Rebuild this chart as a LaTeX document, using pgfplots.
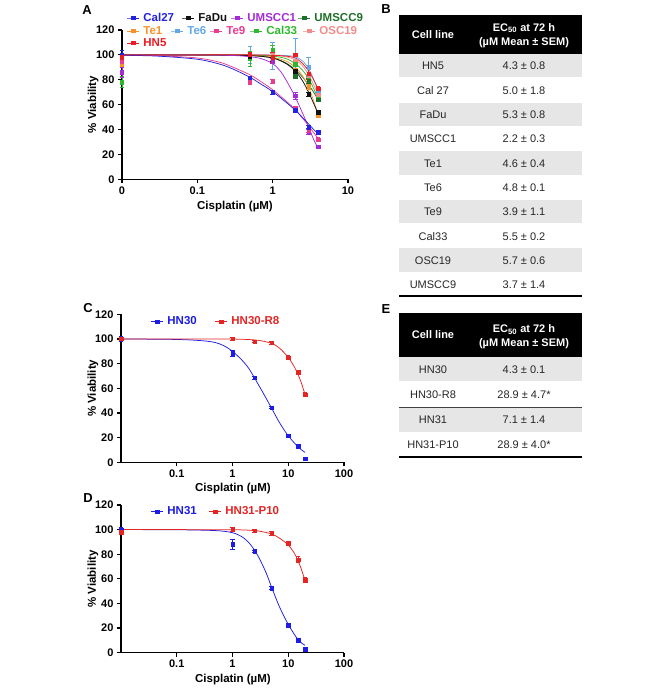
\documentclass[border=0pt]{standalone}
\usepackage{pgfplots}
\pgfplotsset{compat=1.18}
\usepackage{fontspec}
\setmainfont{Liberation Sans}
\definecolor{cCal27}{HTML}{2222E0}
\definecolor{cFaDu}{HTML}{111111}
\definecolor{cUMa}{HTML}{A52BD6}
\definecolor{cUMb}{HTML}{1F6F2A}
\definecolor{cTea}{HTML}{F5922A}
\definecolor{cTeb}{HTML}{62A8E6}
\definecolor{cTec}{HTML}{E83C8E}
\definecolor{cCal33}{HTML}{2EB82E}
\definecolor{cOSC}{HTML}{F28C8C}
\definecolor{cHN5}{HTML}{EC1C24}
\definecolor{cBlue}{HTML}{1C1CE6}
\definecolor{cRed}{HTML}{E52424}
\definecolor{rowgray}{HTML}{E6E6E6}
\newcommand{\tickfont}{\bfseries\fontsize{11}{13}\selectfont}
\newcommand{\labfont}{\bfseries\fontsize{11.5}{13}\selectfont}
\newcommand{\tabfont}{\fontsize{11}{13}\selectfont}
\newcommand{\hdfont}{\bfseries\fontsize{11}{13}\selectfont}
\pgfplotsset{
  mypts/.style={only marks, mark=square*, mark size=1.7pt, color=#1,
    error bars/y dir=both, error bars/y explicit, error bars/error bar style={line width=0.7pt, color=#1},
    error bars/error mark options={rotate=90, mark size=2.2pt, line width=0.7pt, color=#1}},
  mycrv/.style={smooth, no marks, line width=0.75pt, color=#1},
}
\newcommand{\legitem}[4]{%
\begin{axis}[at={(#1pt,#2pt)}, anchor=center, hide axis, scale only axis, width=1pt, height=1pt,
  xmin=0, xmax=1, ymin=0, ymax=1,
  legend style={at={(0.5,0.5)}, anchor=west, draw=none, fill=none, inner sep=0pt, outer sep=0pt,
    font=\labfont, nodes={inner xsep=3.5pt, inner ysep=0pt}},
  legend image code/.code={\draw[mark repeat=2,mark phase=2,##1] plot coordinates {(0pt,0pt) (6pt,0pt) (12pt,0pt)};}]
\addlegendimage{color=#3, mark=square*, mark size=1.7pt, line width=0.9pt}
\addlegendentry{\textcolor{#3}{#4}}
\end{axis}}
\begin{document}
\begin{tikzpicture}
\useasboundingbox (0pt,0pt) rectangle (669pt,693pt);
% ---------------- Panel A
\begin{axis}[xmode=log, scale only axis, axis lines=left, axis line style={-, line width=1.3pt, black},
  tick align=outside, major tick length=4pt, tick style={black, line width=1.2pt},
  xminorticks=false, yminorticks=false, clip=false,
  ticklabel style={font=\tickfont}, xlabel style={font=\labfont}, ylabel style={font=\labfont},
  ymin=0, ymax=120, ytick={0,20,40,60,80,100,120},
  at={(122pt,513.7pt)}, anchor=south west, width=226pt, height=149.3pt,
  xmin=0.01, xmax=10, xtick={0.01,0.1,1,10}, xticklabels={0,0.1,1,10},
  /pgf/number format/assume math mode=true,
  xlabel={Cisplatin (µM)}, ylabel={\% Viability},
  xlabel style={at={(axis description cs:0.5,-0.1855)}, anchor=center},
  ylabel style={at={(axis description cs:-0.128,0.5)}, anchor=center}]
% curves
\addplot[mycrv=cTeb] coordinates {(0.01,100) (0.1,100) (0.5,100) (1,99.8) (1.5,99.5) (2,98.5) (2.5,95) (3,89) (3.5,80.5) (4,71)};
\addplot[mycrv=cOSC] coordinates {(0.01,100) (0.1,100) (0.5,99.9) (1,99.5) (1.5,98.5) (2,96) (2.5,91) (3,84) (3.5,76) (4,68)};
\addplot[mycrv=cCal33] coordinates {(0.01,100) (0.1,100) (0.5,99.8) (1,99) (1.5,97) (2,93) (2.5,87.5) (3,81) (3.5,73) (4,65)};
\addplot[mycrv=cUMb] coordinates {(0.01,100) (0.1,100) (0.5,99.5) (1,97.5) (1.5,93.5) (2,88) (2.5,82) (3,76) (3.5,70) (4,64)};
\addplot[mycrv=cTea] coordinates {(0.01,100) (0.1,100) (0.5,99.5) (1,98) (1.5,95) (2,90) (2.5,83) (3,74) (3.5,63) (4,52)};
\addplot[mycrv=cFaDu] coordinates {(0.01,100) (0.1,99.9) (0.5,99.4) (1,97.5) (1.5,93) (2,87) (2.5,79) (3,70) (3.5,61) (4,53)};
\addplot[mycrv=cUMa] coordinates {(0.01,100) (0.1,99.9) (0.3,99.5) (0.5,98.5) (0.7,97) (1,93) (1.3,86) (1.6,77) (2,66) (2.5,53) (3,42) (3.5,32) (4,25)};
\addplot[mycrv=cTec] coordinates {(0.01,99.8) (0.03,99.3) (0.1,97.5) (0.2,94) (0.3,90) (0.5,84) (0.7,78.5) (1,72) (1.5,63) (2,56) (2.5,49) (3,43) (3.5,37.5) (4,33)};
\addplot[mycrv=cCal27] coordinates {(0.01,99.7) (0.03,99) (0.1,96.5) (0.2,92.5) (0.3,88.5) (0.5,82) (0.7,76.5) (1,70.5) (1.5,62) (2,55.5) (2.5,49.5) (3,44.5) (3.5,40) (4,36.5)};
\addplot[mycrv=cHN5] coordinates {(0.01,100) (0.1,100) (0.5,100) (1,99.7) (1.5,99) (2,97.5) (2.5,93) (3,87) (3.5,80) (4,73)};
% points
\addplot[mypts=cTeb] coordinates {(0.01,100) +- (0,1) (0.5,100) +- (0,7) (1,99) +- (0,11) (2,100) +- (0,13) (3,90) +- (0,8) (4,70) +- (0,2)};
\addplot[mypts=cOSC] coordinates {(0.01,100) +- (0,1) (0.5,99) +- (0,1) (1,100) +- (0,1.5) (2,95) +- (0,1.5) (3,82) +- (0,2) (4,68) +- (0,1.5)};
\addplot[mypts=cCal33] coordinates {(0.01,78) +- (0,4.5) (0.5,97) +- (0,6) (1,104) +- (0,4) (2,93) +- (0,2) (3,80) +- (0,3) (4,65) +- (0,2)};
\addplot[mypts=cUMb] coordinates {(0.01,100) +- (0,1) (0.5,99) +- (0,1) (1,97) +- (0,1.5) (2,83) +- (0,1.5) (3,79) +- (0,2) (4,64) +- (0,1.5)};
\addplot[mypts=cTea] coordinates {(0.01,93) +- (0,2) (0.5,99) +- (0,1) (1,97) +- (0,1.5) (2,88) +- (0,1.5) (3,74) +- (0,2) (4,51.5) +- (0,1)};
\addplot[mypts=cFaDu] coordinates {(0.01,100) +- (0,1) (0.5,99) +- (0,1) (1,96) +- (0,1.5) (2,87) +- (0,1.5) (3,68.5) +- (0,1.5) (4,54) +- (0,1)};
\addplot[mypts=cUMa] coordinates {(0.01,86) +- (0,4) (0.5,100) +- (0,2) (1,95) +- (0,2) (2,67) +- (0,3) (3,38) +- (0,2) (4,26) +- (0,1.5)};
\addplot[mypts=cTec] coordinates {(0.01,95) +- (0,1.5) (0.5,78) +- (0,1.5) (1,78.5) +- (0,1.5) (2,57) +- (0,1.5) (3,39) +- (0,1.5) (4,32) +- (0,1.5)};
\addplot[mypts=cCal27] coordinates {(0.01,100) +- (0,4) (0.5,81.5) +- (0,1.5) (1,70) +- (0,1.8) (2,56) +- (0,1.8) (3,42) +- (0,1) (4,38) +- (0,1)};
\addplot[mypts=cHN5] coordinates {(0.01,98) +- (0,2) (0.5,100) +- (0,2) (1,98) +- (0,4) (2,100) +- (0,1.5) (3,85) +- (0,5) (4,73) +- (0,2)};
\end{axis}
% legend A
\legitem{127}{675}{cCal27}{Cal27}
\legitem{182}{675}{cFaDu}{FaDu}
\legitem{231}{675}{cUMa}{UMSCC1}
\legitem{298}{675}{cUMb}{UMSCC9}
\legitem{127}{662}{cTea}{Te1}
\legitem{171}{662}{cTeb}{Te6}
\legitem{210}{662}{cTec}{Te9}
\legitem{250}{662}{cCal33}{Cal33}
\legitem{303}{662}{cOSC}{OSC19}
\legitem{127}{650}{cHN5}{HN5}
% ---------------- Panel C
\begin{axis}[xmode=log, scale only axis, axis lines=left, axis line style={-, line width=1.3pt, black},
  tick align=outside, major tick length=4pt, tick style={black, line width=1.2pt},
  xminorticks=false, yminorticks=false, clip=false,
  ticklabel style={font=\tickfont}, xlabel style={font=\labfont}, ylabel style={font=\labfont},
  ymin=0, ymax=120, ytick={0,20,40,60,80,100,120},
  at={(121pt,230.7pt)}, anchor=south west, width=223pt, height=148pt,
  xmin=0.01, xmax=100, xtick={0.1,1,10,100}, xticklabels={0.1,1,10,100},
  /pgf/number format/assume math mode=true,
  xlabel={Cisplatin (µM)}, ylabel={\% Viability},
  xlabel style={at={(axis description cs:0.502,-0.174)}, anchor=center},
  ylabel style={at={(axis description cs:-0.1256,0.5)}, anchor=center}]
\addplot[mycrv=cBlue] coordinates {(0.01,100) (0.1,99.6) (0.3,98.5) (0.5,97) (0.7,94.5) (1,90) (1.5,82.5) (2,75.5) (3,62) (4,52) (5,44) (7,32) (10,21.5) (15,12.5) (20,8)};
\addplot[mycrv=cRed] coordinates {(0.01,100) (0.1,100) (1,99.9) (2,99.5) (3,98.8) (5,96.5) (7,92.5) (10,85) (13,77) (15,71) (17,65) (20,55)};
\addplot[mypts=cBlue] coordinates {(0.01,100) +- (0,2) (1,88.5) +- (0,2.5) (2.5,68.5) +- (0,1) (5,44.5) +- (0,1) (10,21.5) +- (0,1) (15,13) +- (0,1) (20,3) +- (0,0.5)};
\addplot[mypts=cRed] coordinates {(0.01,100) +- (0,1) (1,100) +- (0,1) (2.5,98) +- (0,1) (5,97) +- (0,1) (10,85) +- (0,1.5) (15,73) +- (0,1.5) (20,55) +- (0,1.5)};
\end{axis}
\legitem{151}{371.3}{cBlue}{HN30}
\legitem{215}{371.3}{cRed}{HN30-R8}
% ---------------- Panel D
\begin{axis}[xmode=log, scale only axis, axis lines=left, axis line style={-, line width=1.3pt, black},
  tick align=outside, major tick length=4pt, tick style={black, line width=1.2pt},
  xminorticks=false, yminorticks=false, clip=false,
  ticklabel style={font=\tickfont}, xlabel style={font=\labfont}, ylabel style={font=\labfont},
  ymin=0, ymax=120, ytick={0,20,40,60,80,100,120},
  at={(121pt,40.3pt)}, anchor=south west, width=223pt, height=147.7pt,
  xmin=0.01, xmax=100, xtick={0.1,1,10,100}, xticklabels={0.1,1,10,100},
  /pgf/number format/assume math mode=true,
  xlabel={Cisplatin (µM)}, ylabel={\% Viability},
  xlabel style={at={(axis description cs:0.502,-0.185)}, anchor=center},
  ylabel style={at={(axis description cs:-0.1256,0.5)}, anchor=center}]
\addplot[mycrv=cBlue] coordinates {(0.01,100) (0.1,99.9) (0.5,99.2) (1,97.5) (1.5,94) (2,89) (2.5,83) (3,77) (4,65) (5,53.5) (7,37) (10,23) (15,10.5) (20,6)};
\addplot[mycrv=cRed] coordinates {(0.01,100) (0.1,100) (1,99.9) (2,99.5) (3,98.8) (5,96.5) (7,93) (10,87.5) (13,80.5) (15,74.5) (17,68.5) (20,58.5)};
\addplot[mypts=cBlue] coordinates {(0.01,100) +- (0,2) (1,88) +- (0,4) (2.5,82.5) +- (0,1) (5,52.5) +- (0,1) (10,22.5) +- (0,1) (15,10) +- (0,1) (20,3) +- (0,0.5)};
\addplot[mypts=cRed] coordinates {(0.01,98) +- (0,1.5) (1,100) +- (0,1.5) (2.5,99) +- (0,1) (5,97) +- (0,1.5) (10,89) +- (0,1) (15,75.5) +- (0,2.5) (20,59) +- (0,2)};
\end{axis}
\legitem{151}{181.3}{cBlue}{HN31}
\legitem{209}{181.3}{cRed}{HN31-P10}
% ---------------- Panel letters
\node[font=\bfseries\fontsize{13}{15}\selectfont, anchor=center] at (87pt,683pt) {A};
\node[font=\bfseries\fontsize{13}{15}\selectfont, anchor=center] at (386pt,684pt) {B};
\node[font=\bfseries\fontsize{13}{15}\selectfont, anchor=center] at (88pt,385pt) {C};
\node[font=\bfseries\fontsize{13}{15}\selectfont, anchor=center] at (88pt,195pt) {D};
\node[font=\bfseries\fontsize{13}{15}\selectfont, anchor=center] at (386pt,384pt) {E};
% ---------------- Table B
\fill[black] (399pt,678pt) rectangle (582pt,639pt);
\node[font=\hdfont, text=white, anchor=center] at (433pt,658pt) {Cell line};
\node[font=\hdfont, text=white, anchor=center] at (524pt,665pt) {EC\textsubscript{50} at 72 h};
\node[font=\hdfont, text=white, anchor=center] at (524pt,650pt) {(µM Mean ± SEM)};
\fill[rowgray] (399pt,639pt) rectangle (582pt,615.5pt);
\fill[rowgray] (399pt,590.4pt) rectangle (582pt,566.9pt);
\fill[rowgray] (399pt,541.8pt) rectangle (582pt,518.3pt);
\fill[rowgray] (399pt,493.2pt) rectangle (582pt,469.7pt);
\fill[rowgray] (399pt,444.6pt) rectangle (582pt,421.1pt);
\draw[line width=2pt] (399pt,397pt) -- (582pt,397pt);
\begin{scope}[every node/.style={font=\tabfont, text=black!85, anchor=base, inner sep=0pt}]
\node at (433pt,623pt) {HN5};    \node at (524pt,623pt) {4.3 ± 0.8};
\node at (433pt,598.7pt) {Cal 27}; \node at (524pt,598.7pt) {5.0 ± 1.8};
\node at (433pt,574.4pt) {FaDu};   \node at (524pt,574.4pt) {5.3 ± 0.8};
\node at (433pt,550.1pt) {UMSCC1}; \node at (524pt,550.1pt) {2.2 ± 0.3};
\node at (433pt,525.8pt) {Te1};    \node at (524pt,525.8pt) {4.6 ± 0.4};
\node at (433pt,501.5pt) {Te6};    \node at (524pt,501.5pt) {4.8 ± 0.1};
\node at (433pt,477.2pt) {Te9};    \node at (524pt,477.2pt) {3.9 ± 1.1};
\node at (433pt,452.9pt) {Cal33};  \node at (524pt,452.9pt) {5.5 ± 0.2};
\node at (433pt,428.6pt) {OSC19};  \node at (524pt,428.6pt) {5.7 ± 0.6};
\node at (433pt,404.3pt) {UMSCC9}; \node at (524pt,404.3pt) {3.7 ± 1.4};
\end{scope}
% ---------------- Table E
\fill[black] (399pt,380pt) rectangle (582pt,336pt);
\node[font=\hdfont, text=white, anchor=center] at (433pt,358pt) {Cell line};
\node[font=\hdfont, text=white, anchor=center] at (524pt,363.7pt) {EC\textsubscript{50} at 72 h};
\node[font=\hdfont, text=white, anchor=center] at (524pt,349.7pt) {(µM Mean ± SEM)};
\fill[rowgray] (399pt,336pt) rectangle (582pt,311.5pt);
\fill[rowgray] (399pt,286pt) rectangle (582pt,261.3pt);
\draw[line width=0.9pt, black!75] (399pt,286pt) -- (582pt,286pt);
\draw[line width=2pt] (399pt,235.5pt) -- (582pt,235.5pt);
\begin{scope}[every node/.style={font=\tabfont, text=black!85, anchor=base, inner sep=0pt}]
\node at (433pt,319pt) {HN30};     \node at (524pt,319pt) {4.3 ± 0.1};
\node at (433pt,294pt) {HN30-R8};  \node at (524pt,294pt) {28.9 ± 4.7*};
\node at (433pt,269pt) {HN31};     \node at (524pt,269pt) {7.1 ± 1.4};
\node at (433pt,244pt) {HN31-P10}; \node at (524pt,244pt) {28.9 ± 4.0*};
\end{scope}
\end{tikzpicture}
\end{document}
